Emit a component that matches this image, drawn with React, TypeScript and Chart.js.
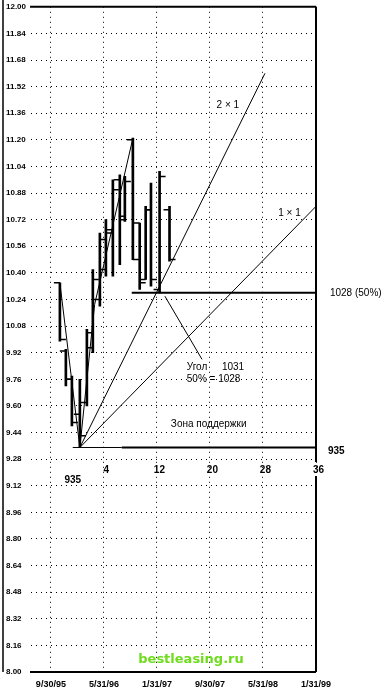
import { useEffect, useRef } from "react";
import { Chart, registerables } from "chart.js";
Chart.register(...registerables);

// ---- data ----
const yTickValues = [8.0, 8.16, 8.32, 8.48, 8.64, 8.8, 8.96, 9.12, 9.28, 9.44, 9.6, 9.76, 9.92, 10.08, 10.24, 10.4, 10.56, 10.72, 10.88, 11.04, 11.2, 11.36, 11.52, 11.68, 11.84, 12.0];
const xTickMonths = [0, 8, 16, 24, 32, 40];
const xTickLabels = ["9/30/95", "5/31/96", "1/31/97", "9/30/97", "5/31/98", "1/31/99"];

const barMonth = [1.36, 2.26, 3.17, 4.37, 5.43, 6.33, 7.39, 8.3, 9.35, 10.4, 11.16, 12.37, 13.4, 14.3, 15.1, 16.4, 17.9];
const barHigh = [10.34, 9.94, 9.78, 9.76, 10.06, 10.42, 10.64, 10.72, 10.96, 10.99, 10.98, 11.21, 10.7, 10.8, 10.94, 11.01, 10.8];
const barLow = [9.99, 9.72, 9.48, 9.35, 9.6, 9.92, 10.2, 10.38, 10.38, 10.45, 10.71, 10.48, 10.3, 10.36, 10.32, 10.28, 10.47];
const barOpen = [10.34, 9.93, 9.76, 9.55, 9.62, 9.95, 10.24, 10.42, 10.64, 10.96, 10.74, 11.2, 10.7, 10.36, 10.78, 10.3, 10.78];
const barClose = [10.0, 9.76, 9.5, 9.42, 10.04, 10.36, 10.6, 10.66, 10.9, 10.72, 10.95, 10.48, 10.34, 10.78, 10.36, 10.98, 10.48];

const swingMonth = [1.36, 4.37, 6.6, 12.37];
const swingPrice = [10.34, 9.35, 10.21, 11.21];

const gann2x1Month = [4.37, 32.3];
const gann2x1Price = [9.35, 11.6];
const gann1x1Month = [4.37, 40];
const gann1x1Price = [9.35, 10.8];

const supportThinMonth = [3.3, 10.7];
const supportThickMonth = [10.7, 40];
const supportPrice = 9.35;
const fiftyMonth = [12.2, 40];
const fiftyPrice = 10.28;
const pointerMonth = [17.2, 22.8];
const pointerPrice = [10.26, 9.88];

const lowMonth = 4.37;
const countLabels = [4, 12, 20, 28, 36];

const pts = (xs: number[], ys: number[]) => xs.map((x, i) => ({ x, y: ys[i] }));

const lineDs = (data: any[], width: number) => ({
  type: "line" as const,
  data,
  borderColor: "#000",
  borderWidth: width,
  pointRadius: 0,
  fill: false,
  tension: 0,
});

const decor = {
  id: "decor",
  afterDatasetsDraw(chart: any) {
    const { ctx, scales } = chart;
    const x = scales.x;
    const y = scales.y;
    ctx.save();
    ctx.strokeStyle = "#000";
    ctx.lineWidth = 1.5;
    barMonth.forEach((m, i) => {
      const px = x.getPixelForValue(m);
      const po = y.getPixelForValue(barOpen[i]);
      const pc = y.getPixelForValue(barClose[i]);
      ctx.beginPath();
      ctx.moveTo(px - 6, po);
      ctx.lineTo(px, po);
      ctx.moveTo(px, pc);
      ctx.lineTo(px + 6, pc);
      ctx.stroke();
    });
    ctx.restore();
  },
  afterDraw(chart: any) {
    const { ctx, chartArea, scales } = chart;
    const x = scales.x;
    const y = scales.y;
    const { left, right, top, bottom } = chartArea;
    ctx.save();
    ctx.strokeStyle = "#000";
    ctx.lineWidth = 1.5;
    ctx.beginPath();
    ctx.moveTo(3, 0);
    ctx.lineTo(3, bottom);
    ctx.stroke();
    ctx.lineWidth = 2;
    ctx.beginPath();
    ctx.moveTo(left - 1, top);
    ctx.lineTo(right, top);
    ctx.moveTo(left - 1, bottom);
    ctx.lineTo(right, bottom);
    const countY = y.getPixelForValue(9.215);
    ctx.moveTo(right, top);
    ctx.lineTo(right, countY - 8);
    ctx.moveTo(right, countY + 6);
    ctx.lineTo(right, bottom);
    ctx.stroke();

    ctx.fillStyle = "#000";
    ctx.textBaseline = "middle";
    const txt = (t: string, m: number, p: number, align: CanvasTextAlign, font: string) => {
      ctx.font = font;
      ctx.textAlign = align;
      ctx.fillText(t, x.getPixelForValue(m), y.getPixelForValue(p));
    };
    const f = "10px 'Liberation Sans', Arial, sans-serif";
    const fb = "bold 10px 'Liberation Sans', Arial, sans-serif";
    txt("2 × 1", 26.7, 11.41, "center", f);
    txt("1 × 1", 36.0, 10.76, "center", f);
    txt("1028 (50%)", 42.1, 10.28, "left", f);
    txt("Угол", 20.5, 9.83, "left", f);
    txt("1031", 25.8, 9.83, "left", f);
    txt("50% = 1028", 20.5, 9.76, "left", f);
    txt("Зона поддержки", 18.1, 9.49, "left", f);
    txt("935", 41.8, 9.33, "left", fb);
    txt("935", 3.3, 9.155, "center", fb);
    countLabels.forEach((c) => txt(String(c), lowMonth + c, 9.215, "center", fb));

    ctx.font = "bold 13px 'DejaVu Sans', sans-serif";
    ctx.fillStyle = "#6fdc1e";
    ctx.textAlign = "center";
    ctx.fillText("bestleasing.ru", 191, 660);
    ctx.restore();
  },
};

export default function App() {
  const ref = useRef<HTMLCanvasElement>(null);
  useEffect(() => {
    document.body.style.margin = "0";
    const canvas = ref.current!;
    const chart = new Chart(canvas, {
      type: "scatter",
      data: {
        datasets: [
          {
            type: "bar" as const,
            data: barMonth.map((m, i) => ({ x: m, y: [barLow[i], barHigh[i]] })) as any,
            backgroundColor: "#000",
            borderWidth: 0,
            barThickness: 2,
            grouped: false,
          } as any,
          lineDs(pts(swingMonth, swingPrice), 1),
          lineDs(pts(gann2x1Month, gann2x1Price), 1),
          lineDs(pts(gann1x1Month, gann1x1Price), 1),
          lineDs(pts(supportThinMonth, [supportPrice, supportPrice]), 1),
          lineDs(pts(supportThickMonth, [supportPrice, supportPrice]), 2),
          lineDs(pts(fiftyMonth, [fiftyPrice, fiftyPrice]), 2),
          lineDs(pts(pointerMonth, pointerPrice), 1),
        ] as any,
      },
      options: {
        animation: false,
        responsive: false,
        devicePixelRatio: 1,
        layout: { padding: { left: 6, right: 66, top: 6, bottom: 0 } },
        plugins: { legend: { display: false }, tooltip: { enabled: false } },
        scales: {
          x: {
            type: "linear",
            min: -3,
            max: 40,
            offset: false,
            afterBuildTicks: (s: any) => {
              s.ticks = xTickMonths.map((v) => ({ value: v }));
            },
            afterFit: (s: any) => {
              s.height = 20;
            },
            ticks: {
              autoSkip: false,
              maxRotation: 0,
              padding: 7,
              color: "#000",
              font: { family: "'Liberation Sans', Arial, sans-serif", size: 9, weight: "bold" },
              callback: (v: any) => xTickLabels[xTickMonths.indexOf(Number(v))] ?? "",
            },
            grid: { color: "#000", lineWidth: 1, drawTicks: false, offset: false },
            border: { display: false, dash: [1, 4] },
          },
          y: {
            type: "linear",
            min: 8,
            max: 12,
            afterBuildTicks: (s: any) => {
              s.ticks = yTickValues.map((v) => ({ value: v }));
            },
            afterFit: (s: any) => {
              s.width = 25;
            },
            ticks: {
              autoSkip: false,
              crossAlign: "far",
              padding: 2,
              color: "#000",
              font: { family: "'Liberation Sans', Arial, sans-serif", size: 8, weight: "bold" },
              callback: (v: any) => Number(v).toFixed(2),
            },
            grid: { color: "#000", lineWidth: 1, drawTicks: false },
            border: { display: false, dash: [1, 4] },
          },
        },
      },
      plugins: [decor],
    });
    return () => chart.destroy();
  }, []);
  return (
    <div style={{ width: 382, height: 692 }}>
      <canvas ref={ref} width={382} height={692} style={{ display: "block" }} />
    </div>
  );
}
